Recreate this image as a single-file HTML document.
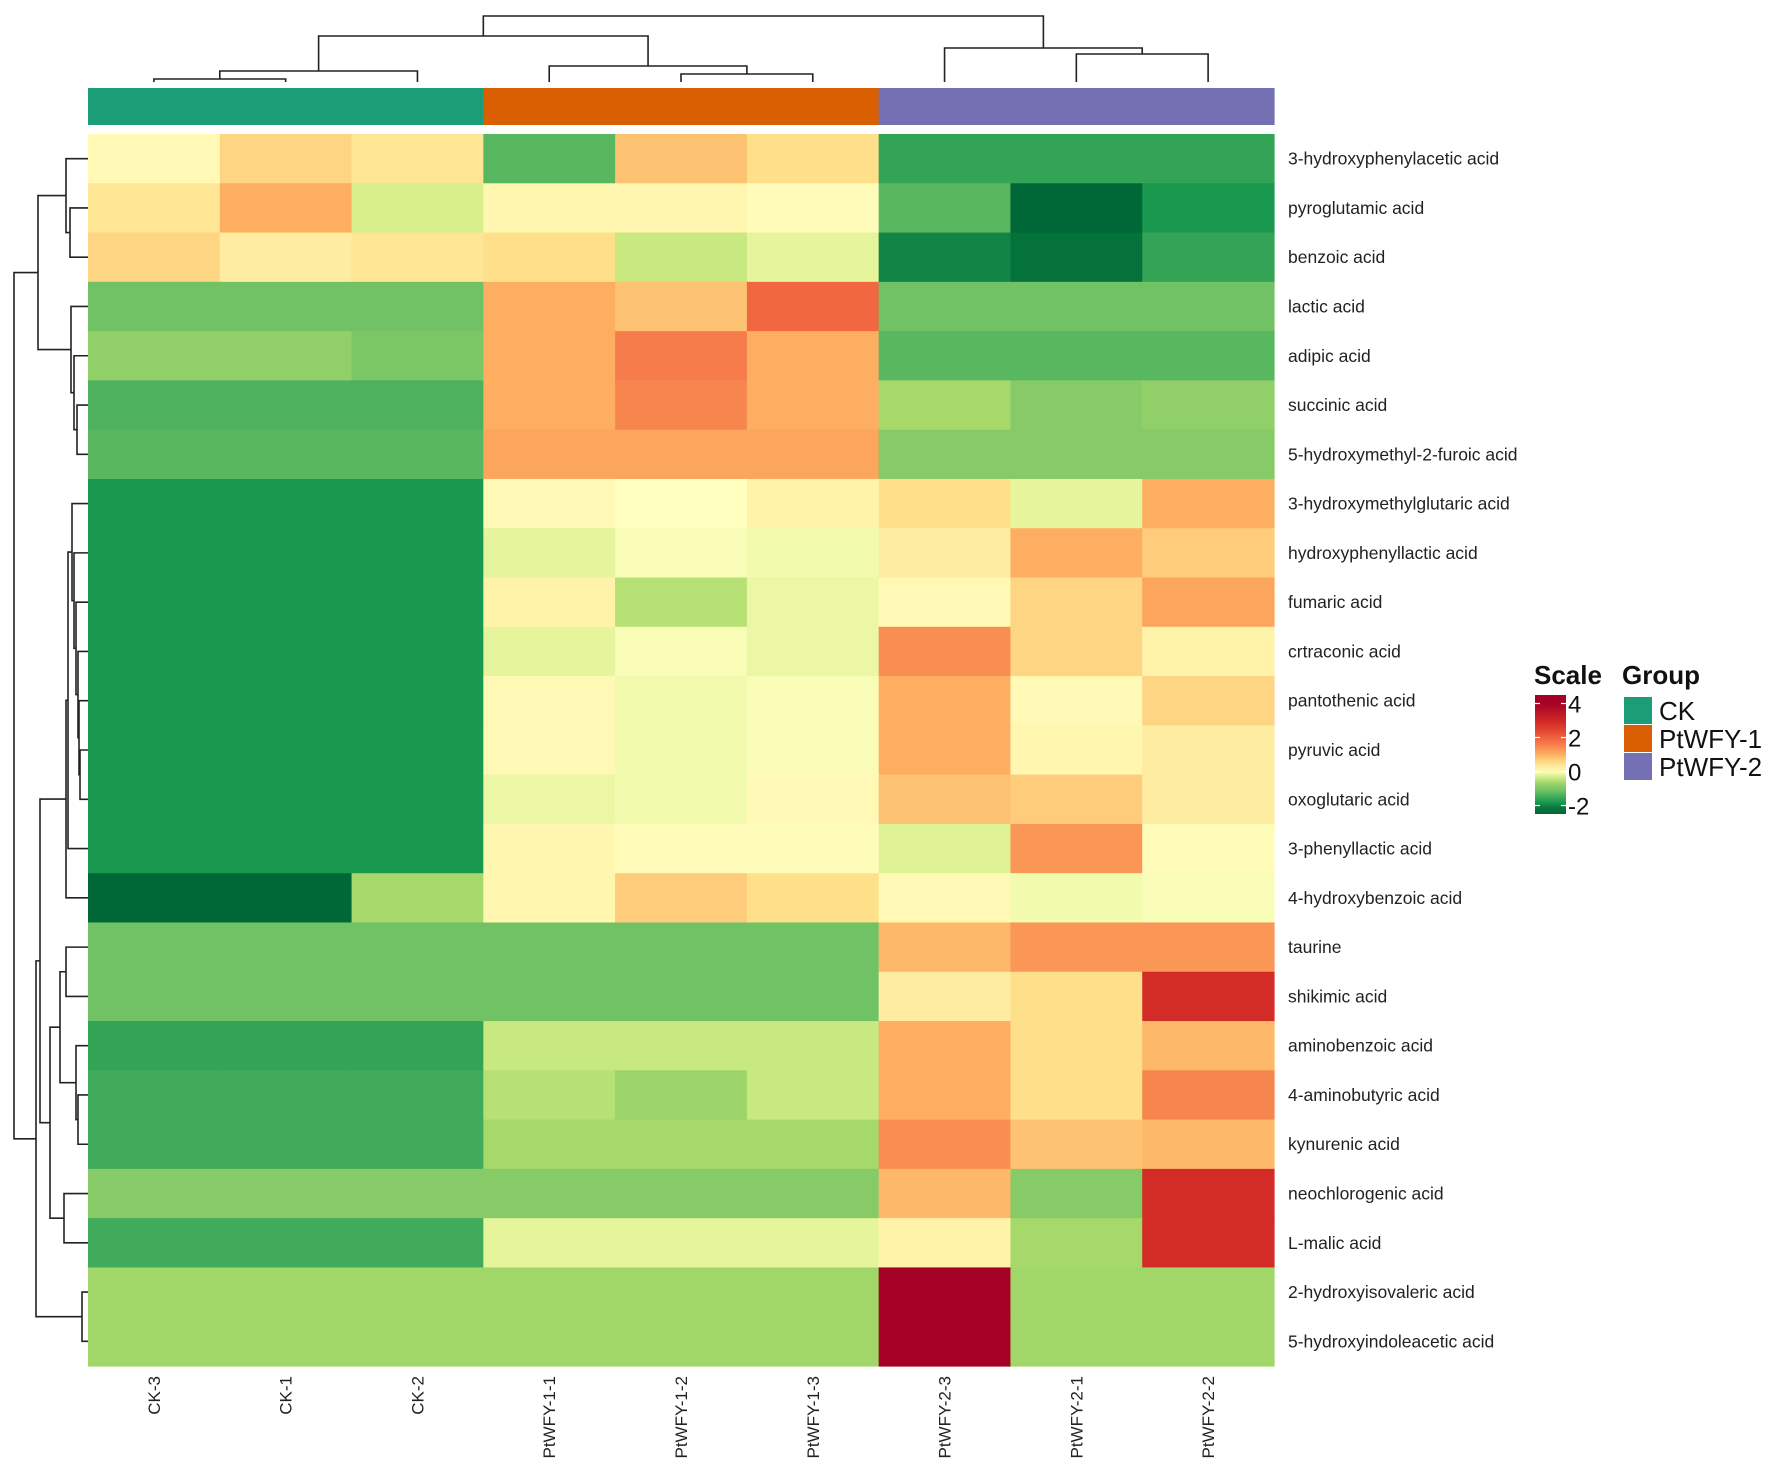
<!DOCTYPE html>
<html><head><meta charset="utf-8"><style>
body{margin:0;background:#fff;}
svg{display:block;font-family:"Liberation Sans",sans-serif;}
</style></head><body>
<svg id="chart" width="1772" height="1474" viewBox="0 0 1772 1474" xmlns="http://www.w3.org/2000/svg"></svg>
<script>
const samples=["CK-3","CK-1","CK-2","PtWFY-1-1","PtWFY-1-2","PtWFY-1-3","PtWFY-2-3","PtWFY-2-1","PtWFY-2-2"];
const sampleGroups=["CK","CK","CK","PtWFY-1","PtWFY-1","PtWFY-1","PtWFY-2","PtWFY-2","PtWFY-2"];
const metabolites=["3-hydroxyphenylacetic acid","pyroglutamic acid","benzoic acid","lactic acid","adipic acid","succinic acid","5-hydroxymethyl-2-furoic acid","3-hydroxymethylglutaric acid","hydroxyphenyllactic acid","fumaric acid","crtraconic acid","pantothenic acid","pyruvic acid","oxoglutaric acid","3-phenyllactic acid","4-hydroxybenzoic acid","taurine","shikimic acid","aminobenzoic acid","4-aminobutyric acid","kynurenic acid","neochlorogenic acid","L-malic acid","2-hydroxyisovaleric acid","5-hydroxyindoleacetic acid"];
const values=[
[0.1,0.6,0.4,-1.3,0.8,0.5,-1.6,-1.6,-1.6],
[0.4,1.0,-0.3,0.15,0.15,0.05,-1.3,-2.3,-1.8],
[0.6,0.3,0.4,0.5,-0.4,-0.2,-2.0,-2.2,-1.6],
[-1.1,-1.1,-1.1,1.0,0.8,1.9,-1.1,-1.1,-1.1],
[-0.8,-0.8,-1.0,1.0,1.6,1.0,-1.3,-1.3,-1.3],
[-1.4,-1.4,-1.4,1.0,1.5,1.0,-0.6,-0.9,-0.8],
[-1.3,-1.3,-1.3,1.1,1.1,1.1,-0.9,-0.9,-0.9],
[-1.8,-1.8,-1.8,0.1,0,0.2,0.5,-0.2,1.0],
[-1.8,-1.8,-1.8,-0.2,-0.05,-0.1,0.3,1.0,0.7],
[-1.8,-1.8,-1.8,0.2,-0.5,-0.15,0.1,0.6,1.1],
[-1.8,-1.8,-1.8,-0.2,-0.05,-0.15,1.4,0.6,0.2],
[-1.8,-1.8,-1.8,0.1,-0.1,-0.05,1.0,0.1,0.6],
[-1.8,-1.8,-1.8,0.1,-0.1,-0.05,1.0,0.15,0.3],
[-1.8,-1.8,-1.8,-0.15,-0.1,0.1,0.8,0.7,0.3],
[-1.8,-1.8,-1.8,0.15,0.05,0.05,-0.25,1.3,0.05],
[-2.3,-2.3,-0.6,0.15,0.7,0.5,0.1,-0.1,-0.05],
[-1.1,-1.1,-1.1,-1.1,-1.1,-1.1,0.9,1.3,1.3],
[-1.1,-1.1,-1.1,-1.1,-1.1,-1.1,0.3,0.5,2.9],
[-1.6,-1.6,-1.6,-0.4,-0.4,-0.4,1.0,0.5,0.9],
[-1.5,-1.5,-1.5,-0.5,-0.7,-0.4,1.0,0.5,1.5],
[-1.5,-1.5,-1.5,-0.6,-0.6,-0.6,1.4,0.8,0.9],
[-0.9,-0.9,-0.9,-0.9,-0.9,-0.9,0.9,-0.9,2.9],
[-1.5,-1.5,-1.5,-0.2,-0.2,-0.2,0.2,-0.6,2.9],
[-0.65,-0.65,-0.65,-0.65,-0.65,-0.65,4.0,-0.65,-0.65],
[-0.65,-0.65,-0.65,-0.65,-0.65,-0.65,4.0,-0.65,-0.65]];
const scaleTicks=[4,2,0,-2];
const groupNames=["CK","PtWFY-1","PtWFY-2"];
const groupColors=["#1b9e77","#d95f02","#7570b3"];
// dendrogram trees: [left,right,height]; leaves are indices
const colTree=[[[[0,1,79],2,71],[3,[4,5,74],66],36],[6,[7,8,54],48],16];
const rA=[0,[1,2,70],66], rB=[3,[4,[5,6,77],74],71], rAB=[rA,rB,38];
const rC=[[[7,[8,[9,[10,[11,[12,13,80],79],78],76],74],72],14,68],15,66];
const rD=[[[16,17,66],[18,[19,20,78],76],60],[21,22,64],50];
const rE=[23,24,82];
const rowTree=[rAB,[[rC,rD,40],rE,36],14];

const svg=document.getElementById('chart');
const NS="http://www.w3.org/2000/svg";
function mk(t,a,p){const e=document.createElementNS(NS,t);for(const k in a)e.setAttribute(k,a[k]);(p||svg).appendChild(e);return e;}
const X0=88,X1=1274,Y0=134,Y1=1366;
const cw=(X1-X0)/samples.length,rh=(Y1-Y0)/metabolites.length;
const xc=i=>X0+cw*(i+0.5), yc=i=>Y0+rh*(i+0.5);
const stops=[[-2.3,"#006837"],[-1.8,"#1a9850"],[-1.2,"#66bd63"],[-0.6,"#a6d96a"],[-0.3,"#d9ef8b"],[0,"#ffffbf"],[0.5,"#fee08b"],[1,"#fdae61"],[1.8,"#f46d43"],[2.8,"#d73027"],[4,"#a50026"]];
function hex(h){return [1,3,5].map(i=>parseInt(h.substr(i,2),16));}
function color(v){if(v<=stops[0][0])return stops[0][1];for(let i=1;i<stops.length;i++){if(v<=stops[i][0]){const a=stops[i-1],b=stops[i],t=(v-a[0])/(b[0]-a[0]);const c1=hex(a[1]),c2=hex(b[1]);return "rgb("+c1.map((c,j)=>Math.round(c+(c2[j]-c)*t)).join(",")+")";}}return stops[stops.length-1][1];}

const cells=mk('g',{});


values.forEach((row,r)=>row.forEach((v,c)=>{
 const e=mk('rect',{x:X0+cw*c,y:Y0+rh*r,width:cw+0.6,height:rh+0.6,fill:color(v)},cells);
 
 
}));
samples.forEach((s,c)=>{
 const e=mk('rect',{x:X0+cw*c,y:88,width:cw+0.6,height:37,fill:groupColors[groupNames.indexOf(sampleGroups[c])]});
 
 
});
metabolites.forEach((m,r)=>{
 const t=mk('text',{x:1288,y:yc(r)+6,'font-size':17.5,fill:'#222'});t.textContent=m;
 
 
});
samples.forEach((s,c)=>{
 const t=mk('text',{x:0,y:0,'font-size':17,fill:'#222','text-anchor':'end',transform:`translate(${xc(c)+6},1376) rotate(-90)`});t.textContent=s;
 
 
});
const dg=mk('g',{stroke:'#222','stroke-width':1.6,fill:'none'});


function drawCol(n){if(typeof n==='number')return{p:xc(n),h:82};const a=drawCol(n[0]),b=drawCol(n[1]),h=n[2];
 mk('path',{d:`M${a.p},${a.h}V${h}H${b.p}V${b.h}`},dg);return{p:(a.p+b.p)/2,h:h};}
drawCol(colTree);
function drawRow(n){if(typeof n==='number')return{p:yc(n),h:88};const a=drawRow(n[0]),b=drawRow(n[1]),h=n[2];
 mk('path',{d:`M${a.h},${a.p}H${h}V${b.p}H${b.h}`},dg);return{p:(a.p+b.p)/2,h:h};}
drawRow(rowTree);
const defs=mk('defs',{});
const lg=mk('linearGradient',{id:'sg',x1:0,y1:0,x2:0,y2:1},defs);
const vTop=4.5,vBot=-2.5,LY0=695,LY1=814;
for(let i=0;i<=20;i++){const v=vTop-(vTop-vBot)*i/20;mk('stop',{offset:(i/20),'stop-color':color(v)},lg);}
const leg=mk('g',{});


let t=mk('text',{x:1534,y:684,'font-size':26,'font-weight':'bold',fill:'#111'},leg);t.textContent='Scale';


const bar=mk('rect',{x:1535,y:LY0,width:31,height:LY1-LY0,fill:'url(#sg)'},leg);


const ly=v=>LY0+(vTop-v)/(vTop-vBot)*(LY1-LY0);
scaleTicks.forEach(v=>{
 mk('line',{x1:1535,x2:1540,y1:ly(v),y2:ly(v),stroke:'#fff','stroke-width':1.2},leg);
 mk('line',{x1:1561,x2:1566,y1:ly(v),y2:ly(v),stroke:'#fff','stroke-width':1.2},leg);
 const tt=mk('text',{x:1568,y:ly(v)+9,'font-size':24,fill:'#111'},leg);tt.textContent=v;
 
 
});
t=mk('text',{x:1622,y:684,'font-size':26,'font-weight':'bold',fill:'#111'},leg);t.textContent='Group';


groupNames.forEach((g,i)=>{
 const r=mk('rect',{x:1624,y:697+i*28,width:28,height:27,fill:groupColors[i]},leg);
 
 
 const tt=mk('text',{x:1659,y:720+i*28,'font-size':26,fill:'#111'},leg);tt.textContent=g;
 
 
});
</script>
</body></html>
